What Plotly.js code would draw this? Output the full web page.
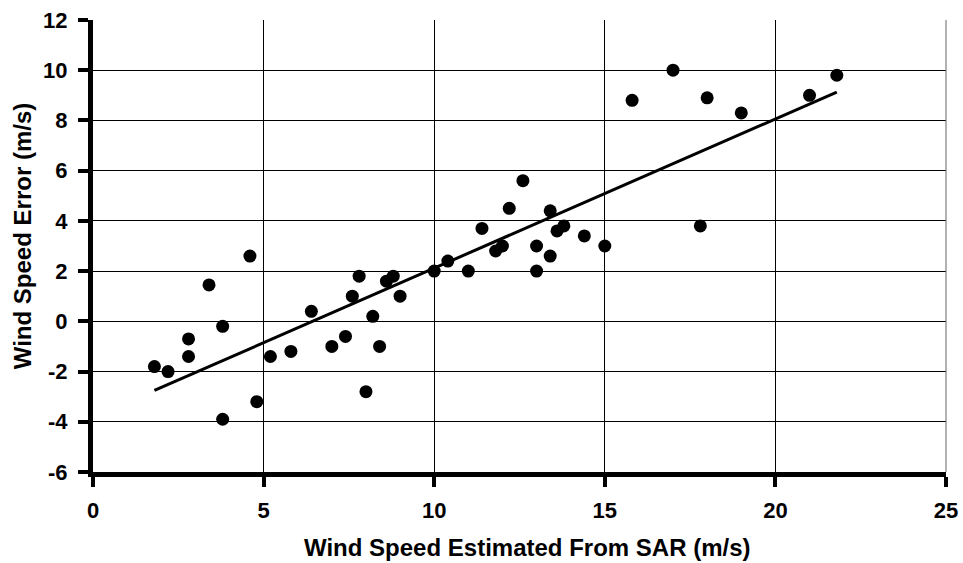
<!DOCTYPE html>
<html>
<head>
<meta charset="utf-8">
<script src="https://cdn.plot.ly/plotly-3.0.1.min.js"></script>
<style>html,body{margin:0;padding:0;background:#fff;}#chart{width:963px;height:563px;}</style>
</head>
<body>
<div id="chart"></div>
<script>
// Wind speed estimated from SAR (m/s)
const sarSpeed = [1.8, 2.2, 2.8, 2.8, 3.4, 3.8, 3.8, 4.6, 4.8, 5.2, 5.8, 6.4, 7.0, 7.4, 7.6, 7.8, 8.0, 8.2, 8.4, 8.6, 8.8, 9.0,
  10.0, 10.4, 11.0, 11.4, 11.8, 12.0, 12.2, 12.6, 13.0, 13.0, 13.4, 13.4, 13.6, 13.8, 14.4, 15.0, 15.8, 17.0, 17.8, 18.0, 19.0, 21.0, 21.8];
// Wind speed error (m/s)
const speedError = [-1.8, -2.0, -0.7, -1.4, 1.45, -0.2, -3.9, 2.6, -3.2, -1.4, -1.2, 0.4, -1.0, -0.6, 1.0, 1.8, -2.8, 0.2, -1.0, 1.6, 1.8, 1.0,
  2.0, 2.4, 2.0, 3.7, 2.8, 3.0, 4.5, 5.6, 3.0, 2.0, 4.4, 2.6, 3.6, 3.8, 3.4, 3.0, 8.8, 10.0, 3.8, 8.9, 8.3, 9.0, 9.8];

const xTicks = [0, 5, 10, 15, 20, 25];
const yTicks = [-6, -4, -2, 0, 2, 4, 6, 8, 10, 12];
const xTitle = 'Wind Speed Estimated From SAR (m/s)';
const yTitle = 'Wind Speed Error (m/s)';

// Linear least-squares trendline over the data range
const n = sarSpeed.length;
let sx = 0, sy = 0, sxx = 0, sxy = 0;
for (let i = 0; i < n; i++) {
  sx += sarSpeed[i]; sy += speedError[i];
  sxx += sarSpeed[i] * sarSpeed[i]; sxy += sarSpeed[i] * speedError[i];
}
const slope = (n * sxy - sx * sy) / (n * sxx - sx * sx);
const intercept = (sy - slope * sx) / n;
const xMin = Math.min(...sarSpeed), xMax = Math.max(...sarSpeed);
const trendX = [xMin, xMax];
const trendY = trendX.map(x => intercept + slope * x);

const family = 'Liberation Sans, Arial, sans-serif';
const tickFont = {family: family, size: 22, color: '#000', weight: 700};
const titleFont = {family: family, size: 24, color: '#000', weight: 700};

const traces = [
  {x: trendX, y: trendY, mode: 'lines', line: {color: '#000', width: 3}, hoverinfo: 'skip', showlegend: false},
  {x: sarSpeed, y: speedError, mode: 'markers', marker: {color: '#000', size: 13}, showlegend: false}
];

const layout = {
  width: 963, height: 563,
  margin: {l: 93, r: 17, t: 20, b: 91},
  paper_bgcolor: '#fff', plot_bgcolor: '#fff',
  font: tickFont,
  showlegend: false,
  xaxis: {
    range: [0, 25], tickvals: xTicks, ticktext: xTicks.map(String),
    showgrid: true, gridcolor: '#000', gridwidth: 1, zeroline: false,
    showline: true, linecolor: '#000', linewidth: 5, mirror: false,
    ticks: 'outside', ticklen: 10, tickwidth: 4, tickcolor: '#000',
    tickfont: tickFont, ticklabelstandoff: 5
  },
  yaxis: {
    range: [-6, 12], tickvals: yTicks, ticktext: yTicks.map(String),
    showgrid: true, gridcolor: '#000', gridwidth: 1, zeroline: false,
    showline: true, linecolor: '#000', linewidth: 5,
    ticks: 'outside', ticklen: 10, tickwidth: 4, tickcolor: '#000',
    tickfont: tickFont, ticklabelstandoff: 6
  },
  annotations: [
    {text: xTitle, xref: 'paper', yref: 'paper', x: 0.509, y: -0.166, xanchor: 'center', yanchor: 'middle',
     showarrow: false, font: titleFont},
    {text: yTitle, xref: 'paper', yref: 'paper', x: -0.083, y: 0.522, xanchor: 'center', yanchor: 'middle',
     textangle: -90, showarrow: false, font: titleFont}
  ],
  shapes: [
    {type: 'line', xref: 'paper', yref: 'paper', x0: 1, x1: 1, y0: 0, y1: 1, line: {color: '#666', width: 1}}
  ]
};

Plotly.newPlot('chart', traces, layout, {displayModeBar: false, staticPlot: true});
</script>
</body>
</html>
